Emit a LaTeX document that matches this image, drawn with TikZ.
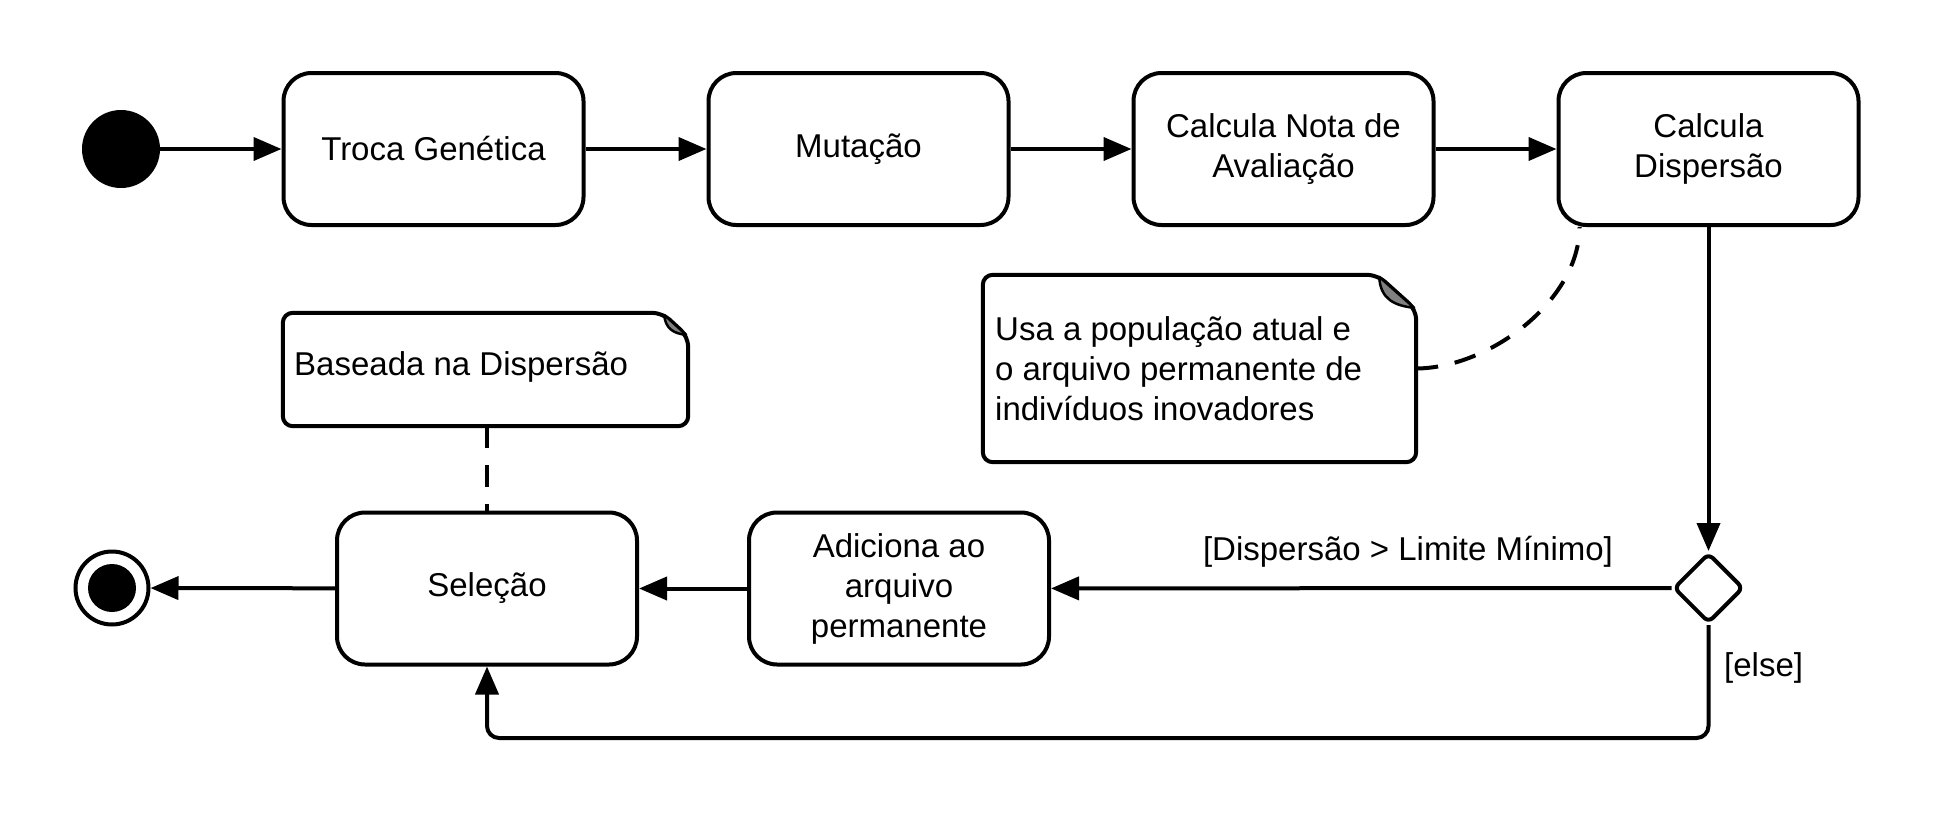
\documentclass[tikz,border=0pt]{standalone}
\usepackage{fontspec}
\setmainfont{Liberation Sans}
\usetikzlibrary{arrows.meta,shapes.geometric,calc}
\begin{document}
\begin{tikzpicture}[x=1pt,y=-1pt,
  every node/.style={font=\fontsize{33}{40}\selectfont},
  act/.style={draw, line width=4pt, rounded corners=28pt, minimum width=300pt, minimum height=152pt, align=center, inner sep=0pt},
  arr/.style={line width=4pt, -{Triangle[length=28pt,width=23pt]}},
  notetext/.style={align=left, inner sep=0pt, anchor=west},
  noteline/.style={line width=4pt, rounded corners=10pt},
  foldfill/.style={fill=black!50, draw=black, line width=2.5pt, line join=round},
  anchorline/.style={line width=4pt, dash pattern=on 22pt off 17pt},
  guard/.style={inner sep=0pt}
]
\useasboundingbox (0,0) rectangle (1935,814);

% activities
\node[circle, fill=black, minimum size=78pt, inner sep=0pt] (start) at (121,149) {};
\node[act] (t1) at (433.5,149) {Troca Genética};
\node[act] (t2) at (858.5,149) {Mutação};
\node[act] (t3) at (1283.5,149) {Calcula Nota de\\Avaliação};
\node[act] (t4) at (1708.5,149) {Calcula\\Dispersão};
\node[draw, diamond, line width=4pt, rounded corners=6pt, minimum width=70pt, minimum height=70pt, inner sep=0pt] (dec) at (1708.5,588) {};
\node[act] (add) at (899,588.5) {Adiciona ao\\arquivo\\permanente};
\node[act] (sel) at (487,588.5) {Seleção};
\node[circle, draw, line width=4pt, minimum size=73pt, inner sep=0pt] (fin) at (112,588) {};
\fill (fin.center) circle (24pt);

% notes
\node[minimum width=433pt, minimum height=187pt, inner sep=0pt] (n1) at (1199.5,368.5) {};
\node[notetext] (n1t) at (995,368.5) {Usa a população atual e\\o arquivo permanente de\\indivíduos inovadores};
\draw[noteline] (n1.north west) -- ($(n1.north east)+(-39,0)$) -- ($(n1.north east)+(0,35)$) -- (n1.south east) -- (n1.south west) -- cycle;
\filldraw[foldfill] ($(n1.north east)+(-37,2)$) .. controls ($(n1.north east)+(-36,24)$) and ($(n1.north east)+(-22,31)$) .. ($(n1.north east)+(-2,33)$) -- cycle;

\node[minimum width=405pt, minimum height=113pt, inner sep=0pt] (n2) at (485.5,369.5) {};
\node[notetext] (n2t) at (294,367) {Baseada na Dispersão};
\draw[noteline] (n2.north west) -- ($(n2.north east)+(-26,0)$) -- ($(n2.north east)+(0,24)$) -- (n2.south east) -- (n2.south west) -- cycle;
\filldraw[foldfill] ($(n2.north east)+(-24,2)$) .. controls ($(n2.north east)+(-23,16)$) and ($(n2.north east)+(-14,21)$) .. ($(n2.north east)+(-2,22)$) -- cycle;

% flows
\draw[arr] (start) -- (t1);
\draw[arr] (t1) -- (t2);
\draw[arr] (t2) -- (t3);
\draw[arr] (t3) -- (t4);
\draw[arr] (t4) -- (dec);
\draw[arr] (dec.west) -- (add);
\node[guard] (g1) at (1408,552) {[Dispersão > Limite Mínimo]};
\draw[arr] (add) -- (sel);
\draw[arr] (sel) -- (fin);
\coordinate (loop) at (487,738);
\draw[arr, rounded corners=12pt] (dec.south) |- (loop) -- (sel.south);
\node[guard, anchor=west] (g2) at (1724,668) {[else]};

% note anchors
\draw[anchorline] (sel.north |- n2.south) -- (sel.north);
\coordinate (t4b) at ($(t4.south west)+(23,0)$);
\draw[anchorline] (n1.east) .. controls (1490,368) and (t4b |- 0,300) .. (t4b);
\end{tikzpicture}
\end{document}
